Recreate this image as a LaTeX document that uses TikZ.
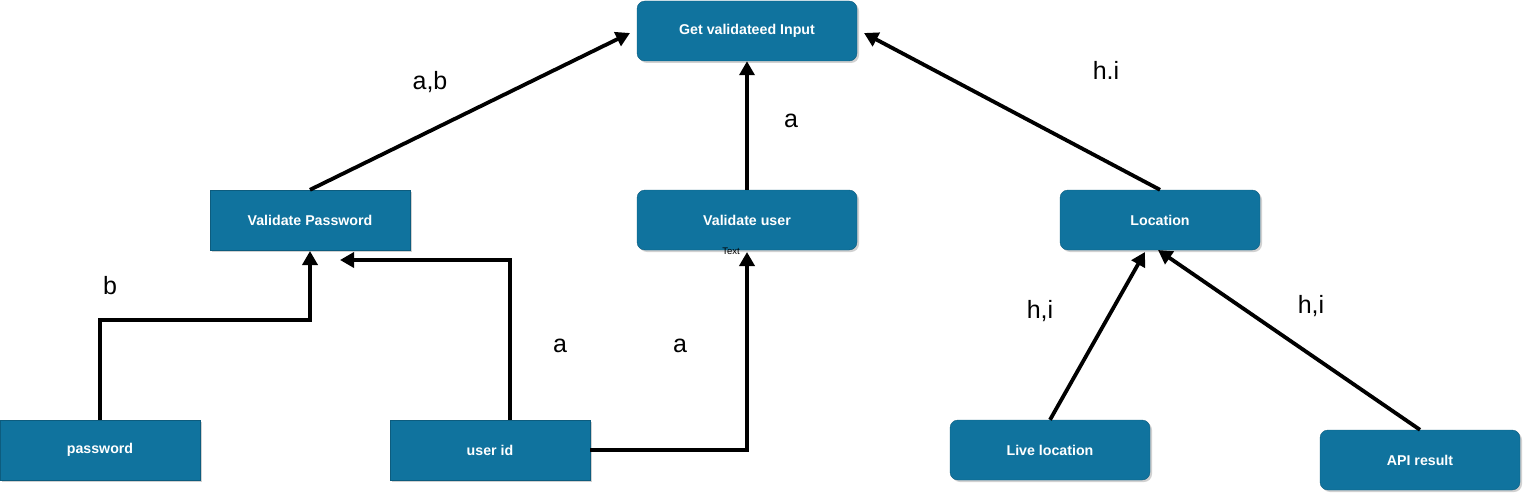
\documentclass[tikz,border=0pt]{standalone}
\usepackage{fontspec}
\setmainfont{Liberation Sans}
\usetikzlibrary{arrows.meta,shadows}
\definecolor{boxblue}{HTML}{10739E}
\begin{document}
\begin{tikzpicture}[x=1pt,y=-1pt,
  box/.style={fill=boxblue,draw=boxblue!80!black,line width=0.4pt,minimum width=200pt,minimum height=60pt,inner sep=0pt,
    text=white,font=\fontsize{14.2}{16}\selectfont\bfseries,
    drop shadow={shadow xshift=2pt,shadow yshift=-2pt,fill=black!30,opacity=0.6}},
  rbox/.style={box,rounded corners=8pt},
  conn/.style={line width=3.8pt,-{Triangle[length=14pt,width=15pt]}},
  lbl/.style={font=\fontsize{25}{30}\selectfont}]
\useasboundingbox (0,0) rectangle (1523,495);
\node[rbox,minimum width=220pt] (gvi) at (747,31) {Get validateed Input};
\node[box] (vp) at (310,220) {Validate Password};
\node[rbox,minimum width=220pt] (vu) at (747,220) {Validate user};
\node[rbox] (loc) at (1160,220) {Location};
\node[box] (pw) at (100,450) {password};
\node[box] (uid) at (490,450) {user id};
\node[rbox] (live) at (1050,450) {Live location};
\node[rbox] (api) at (1420,460) {API result};
\coordinate (gviL) at (630,33);
\coordinate (gviR) at (864,33);
\coordinate (vpB) at (310,251);
\coordinate (vpR) at (340,260);
\coordinate (vuB) at (747,252);
\coordinate (locB1) at (1145,252);
\coordinate (locB2) at (1158,250);
\draw[conn] (vp.north) -- (gviL);
\draw[conn] (vu.north) -- (gvi.south);
\draw[conn] (loc.north) -- (gviR);
\draw[conn] (pw.north) -- (100,320) -| (vpB);
\draw[conn] ([xshift=20pt]uid.north) |- (vpR);
\draw[conn] (uid.east) -| (vuB);
\draw[conn] ([xshift=0pt]live.north) -- (locB1);
\draw[conn] (api.north) -- (locB2);
\node[lbl] (l1) at (430,82) {a,b};
\node[lbl] (l2) at (791,121) {a};
\node[lbl] (l3) at (1106,70) {h.i};
\node[lbl] (l4) at (110,286) {b};
\node[lbl] (l5) at (560,346) {a};
\node[lbl] (l6) at (680,346) {a};
\node[lbl] (l7) at (1040,311) {h,i};
\node[lbl] (l8) at (1311,306) {h,i};
\node[font=\fontsize{9.5}{10}\selectfont] (t) at (731,251) {Text};
\end{tikzpicture}
\end{document}
